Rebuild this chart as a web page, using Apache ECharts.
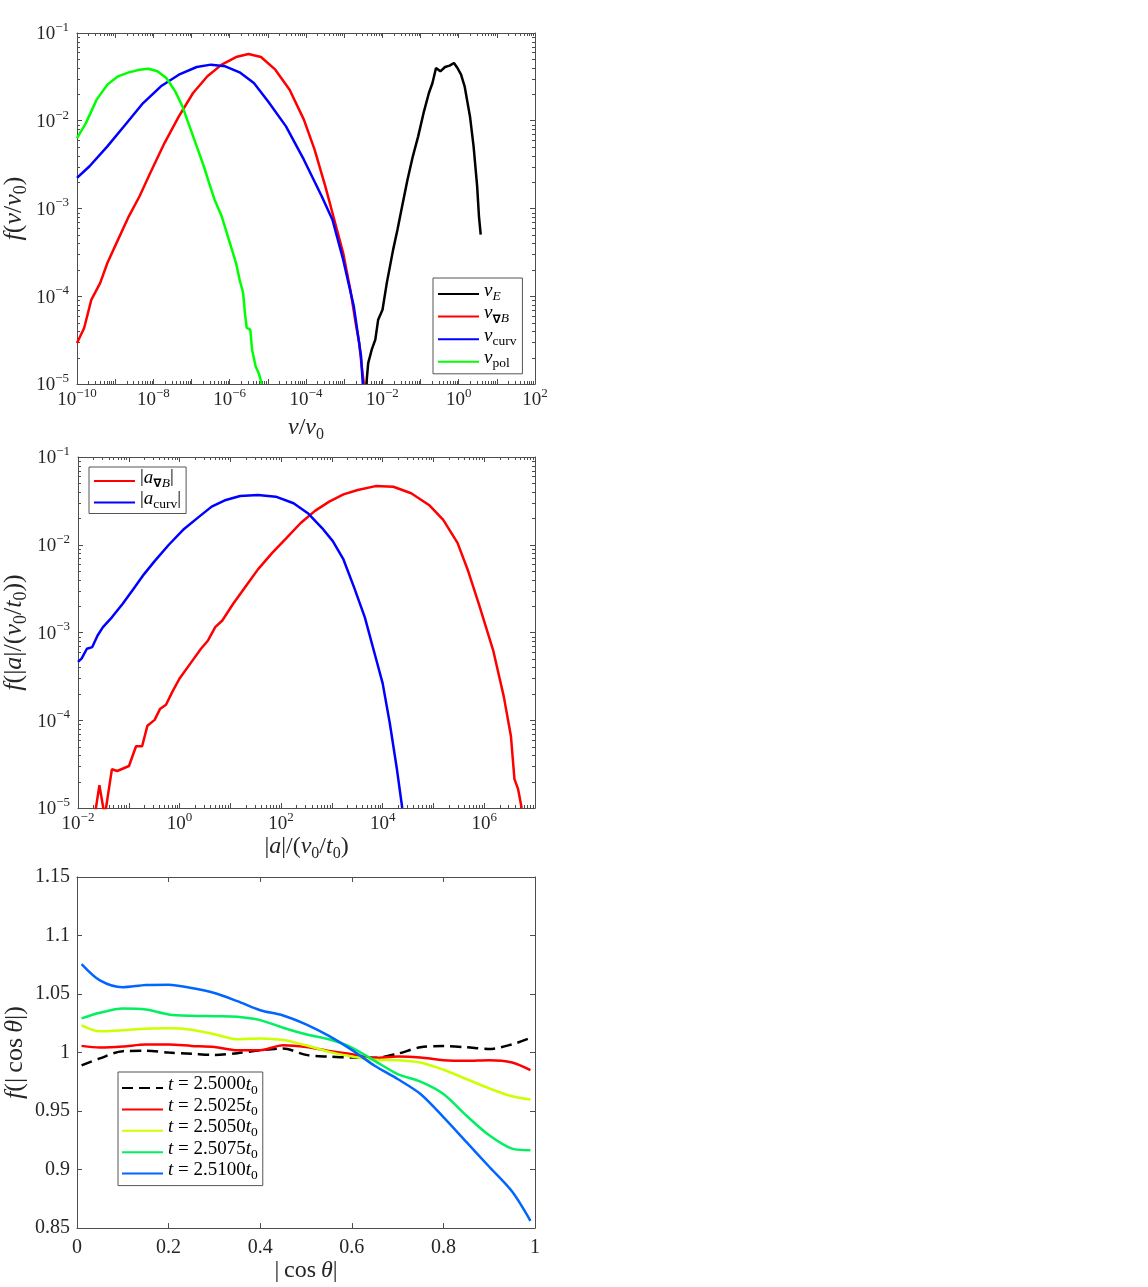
<!DOCTYPE html>
<html><head><meta charset="utf-8">
<script src="https://cdn.jsdelivr.net/npm/echarts@6/dist/echarts.min.js"></script>
<style>html,body{margin:0;padding:0;background:#fff}#c{width:1148px;height:1287px}</style>
</head><body><div id="c"></div>
<script>
// ---------- Panel 1: drift speed distributions f(v/v0) ----------
const vE = [[3.82e-3,1e-5],[4.26e-3,1.73e-5],[5.27e-3,2.46e-5],[6.55e-3,3.2e-5],[7.78e-3,5.41e-5],[1.01e-2,7.03e-5],[1.31e-2,1.42e-4],[1.92e-2,3.4e-4],[2.49e-2,5.74e-4],[3.3e-2,1.06e-3],[4.56e-2,2.13e-3],[6.3e-2,3.93e-3],[8.69e-2,6.64e-3],[0.12,1.22e-2],[0.166,2.07e-2],[0.206,2.69e-2],[0.255,3.99e-2],[0.331,3.66e-2],[0.439,4.1e-2],[0.579,4.25e-2],[0.752,4.55e-2],[0.931,3.99e-2],[1.156,3.35e-2],[1.432,2.47e-2],[1.98,1.12e-2],[2.46,5.1e-3],[3.05,1.79e-3],[3.4,8.15e-4],[3.78,5.03e-4]];
const vGradB = [[1e-10,2.93e-5],[1.54e-10,4.35e-5],[2.37e-10,9.1e-5],[4.06e-10,1.42e-4],[6.25e-10,2.39e-4],[1.19e-9,4.42e-4],[2.28e-9,8.15e-4],[4.35e-9,1.38e-3],[8.3e-9,2.54e-3],[1.96e-8,5.57e-3],[4.66e-8,1.12e-2],[1.1e-7,2.07e-2],[2.61e-7,3.21e-2],[6.18e-7,4.36e-2],[1.47e-6,5.32e-2],[3.11e-6,5.76e-2],[6.62e-6,5.32e-2],[1.57e-5,3.82e-2],[3.72e-5,2.26e-2],[8.79e-5,1.03e-2],[1.68e-4,4.68e-3],[3.21e-4,1.79e-3],[6.12e-4,6.27e-4],[9.42e-4,3.11e-4],[1.45e-3,1.19e-4],[2.0e-3,4.96e-5],[2.48e-3,2.93e-5],[2.88e-3,1.59e-5],[3.29e-3,1e-5]];
const vCurv = [[1e-10,2.23e-3],[2.13e-10,3.03e-3],[6.25e-10,5.1e-3],[1.84e-9,9.0e-3],[5.4e-9,1.59e-2],[1.58e-8,2.47e-2],[4.66e-8,3.35e-2],[1.37e-7,4.1e-2],[3.24e-7,4.36e-2],[7.67e-7,4.17e-2],[1.82e-6,3.56e-2],[4.31e-6,2.69e-2],[1.02e-5,1.66e-2],[2.99e-5,8.63e-3],[8.79e-5,3.6e-3],[2.58e-4,1.38e-3],[4.93e-4,7.46e-4],[9.42e-4,2.61e-4],[1.79e-3,7.67e-5],[2.77e-3,2.07e-5],[3.08e-3,1e-5]];
const vPol = [[1e-10,6.35e-3],[1.71e-10,9.4e-3],[3.27e-10,1.74e-2],[6.25e-10,2.58e-2],[1.19e-9,3.21e-2],[2.28e-9,3.56e-2],[4.35e-9,3.82e-2],[7.45e-9,3.92e-2],[1.28e-8,3.66e-2],[2.19e-8,3.07e-2],[3.75e-8,2.16e-2],[5.77e-8,1.46e-2],[8.89e-8,8.63e-3],[1.37e-7,5.1e-3],[2.1e-7,3.03e-3],[2.9e-7,1.95e-3],[4.02e-7,1.26e-3],[6.18e-7,8.15e-4],[9.51e-7,4.42e-4],[1.47e-6,2.39e-4],[1.82e-6,1.55e-4],[2.25e-6,1.09e-4],[2.51e-6,6.44e-5],[2.79e-6,4.35e-5],[3.47e-6,4.16e-5],[3.86e-6,2.46e-5],[4.79e-6,1.59e-5],[5.94e-6,1.28e-5],[6.9e-6,1e-5]];

// ---------- Panel 2: acceleration distributions ----------
const aGradB = [[0.0205,7e-6],[0.0264,1.82e-5],[0.0336,8e-6],[0.0465,2.76e-5],[0.0592,2.64e-5],[0.101,3.01e-5],[0.139,5.06e-5],[0.183,5.06e-5],[0.233,8.67e-5],[0.323,1.01e-4],[0.411,1.34e-4],[0.541,1.5e-4],[0.724,2.12e-4],[1.0,2.99e-4],[1.626,4.42e-4],[2.64,6.53e-4],[3.64,8.12e-4],[5.04,1.15e-3],[6.95,1.37e-3],[11.3,2.11e-3],[21.5,3.55e-3],[35.0,5.24e-3],[66.8,8.09e-3],[127,1.19e-2],[243,1.77e-2],[465,2.43e-2],[885,3.1e-2],[1690,3.75e-2],[3228,4.2e-2],[7244,4.66e-2],[16250,4.58e-2],[36400,3.86e-2],[81700,2.84e-2],[156000,1.92e-2],[298000,1.05e-2],[483000,5.02e-3],[785000,2.11e-3],[1.5e6,6.27e-4],[2.43e6,1.86e-4],[3.36e6,6.56e-5],[3.94e6,2.13e-5],[4.65e6,1.64e-5],[5.46e6,1e-5]];
const aCurv = [[0.01,4.62e-4],[0.01175,5.04e-4],[0.01496,6.53e-4],[0.0191,6.82e-4],[0.0243,9.24e-4],[0.031,1.15e-3],[0.0465,1.49e-3],[0.0753,2.11e-3],[0.1225,3.11e-3],[0.1986,4.6e-3],[0.323,6.51e-3],[0.615,1.0e-2],[1.175,1.48e-2],[2.24,2.01e-2],[4.29,2.72e-2],[8.17,3.24e-2],[15.6,3.6e-2],[35.0,3.69e-2],[78.5,3.53e-2],[176,2.97e-2],[336,2.29e-2],[641,1.55e-2],[1042,1.1e-2],[1690,6.8e-3],[2748,3.25e-3],[4457,1.49e-3],[7244,5.26e-4],[10000,2.63e-4],[13800,9.29e-5],[19100,2.76e-5],[24300,1e-5]];

// ---------- Panel 3: f(|cos theta|) ----------
const cosX = [0.01,0.05,0.1,0.15,0.2,0.25,0.3,0.35,0.4,0.45,0.5,0.55,0.6,0.65,0.7,0.75,0.8,0.85,0.9,0.95,0.99];
const t25000 = [0.989,0.995,1.0012,1.0015,1.0,0.999,0.998,0.9994,1.002,1.0035,0.998,0.9965,0.9958,0.9955,0.999,1.0045,1.0055,1.0045,1.003,1.007,1.0125];
const t25025 = [1.0057,1.0043,1.0051,1.0068,1.0068,1.0057,1.0048,1.002,1.002,1.0062,1.0048,1.0014,0.9986,0.9955,0.9966,0.9958,0.9935,0.9929,0.9935,0.9915,0.985];
const t25050 = [1.0232,1.0181,1.019,1.0204,1.0207,1.0195,1.0156,1.0113,1.0121,1.0108,1.0062,1.0006,0.9966,0.9938,0.9935,0.9915,0.9853,0.9774,0.9694,0.9626,0.9598];
const t25075 = [1.0292,1.034,1.0376,1.0368,1.0326,1.0314,1.0311,1.0306,1.0277,1.0212,1.0156,1.0113,1.0043,0.9929,0.9816,0.9751,0.9646,0.9462,0.9293,0.9179,0.9165];
const t25100 = [1.0756,1.0617,1.0558,1.0577,1.058,1.0552,1.0509,1.0439,1.0362,1.0317,1.0241,1.0142,1.0023,0.9887,0.9774,0.9646,0.9448,0.9236,0.9024,0.8812,0.8562];

// axis decorations (minor tick multipliers per decade)
const minorMultipliers = [2,3,4,5,6,7,8,9];
const p1xDecades = [-10,-9,-8,-7,-6,-5,-4,-3,-2,-1,0,1];
const p1yDecades = [-5,-4,-3,-2];
const p2xDecades = [-2,-1,0,1,2,3,4,5,6];
const p2yDecades = [-5,-4,-3,-2];

const FONT = '"Liberation Serif", "DejaVu Serif", serif';
const AX = '#4d4d4d';
const TXT = '#262626';

const tickRich = {
  b:{fontFamily:FONT,fontSize:19,lineHeight:22,verticalAlign:'bottom',color:TXT},
  s:{fontFamily:FONT,fontSize:13,lineHeight:15,verticalAlign:'bottom',padding:[0,0,10,0],color:TXT}
};
function powLabel(v, evenOnly){
  const e = Math.round(Math.log10(v));
  if (evenOnly && e % 2 !== 0) return '';
  return '{b|10}{s|' + (e < 0 ? '\u2212' + (-e) : e) + '}';
}
function mkNameRich(size){
  return {
    i:{fontFamily:FONT,fontStyle:'italic',fontSize:size,lineHeight:size+2,verticalAlign:'bottom',padding:[0,0,3,0],color:TXT},
    n:{fontFamily:FONT,fontSize:size,lineHeight:size+2,verticalAlign:'bottom',padding:[0,0,3,0],color:TXT},
    sub:{fontFamily:FONT,fontSize:Math.round(size*0.68),lineHeight:Math.round(size*0.68)+2,verticalAlign:'bottom',color:TXT}
  };
}
const xNameRich = mkNameRich(24);
const yNameRich = mkNameRich(26);
const legRich = {
  i:{fontFamily:FONT,fontStyle:'italic',fontSize:19,lineHeight:18,verticalAlign:'bottom',padding:[0,0,3,0],color:'#000'},
  n:{fontFamily:FONT,fontSize:19,lineHeight:18,verticalAlign:'bottom',padding:[0,0,3,0],color:'#000'},
  sub:{fontFamily:FONT,fontSize:13.5,lineHeight:15,verticalAlign:'bottom',color:'#000'},
  si:{fontFamily:FONT,fontStyle:'italic',fontSize:13.5,lineHeight:15,verticalAlign:'bottom',color:'#000'},
  sb:{fontFamily:'"DejaVu Sans", sans-serif',fontWeight:'bold',fontSize:12,lineHeight:15,verticalAlign:'bottom',color:'#000'}
};
const legendText = {
  'vE':'{i|v}{si|E}',
  'vGradB':'{i|v}{sb|\u2207}{si|B}',
  'vCurv':'{i|v}{sub|curv}',
  'vPol':'{i|v}{sub|pol}',
  'aGradB':'{n||}{i|a}{sb|\u2207}{si|B}{n||}',
  'aCurv':'{n||}{i|a}{sub|curv}{n||}',
  't25000':'{i|t}{n| = 2.5000}{i|t}{sub|0}',
  't25025':'{i|t}{n| = 2.5025}{i|t}{sub|0}',
  't25050':'{i|t}{n| = 2.5050}{i|t}{sub|0}',
  't25075':'{i|t}{n| = 2.5075}{i|t}{sub|0}',
  't25100':'{i|t}{n| = 2.5100}{i|t}{sub|0}'
};

const grids = [
  {left:76, top:33, width:459, height:351},
  {left:77, top:457, width:458, height:351},
  {left:77, top:877, width:458, height:353}
];

function baseAxis(extra){
  return Object.assign({
    axisLine:{show:true,onZero:false,lineStyle:{color:AX,width:1}},
    axisTick:{show:true,inside:true,length:5,interval:0,lineStyle:{color:AX,width:1}},
    splitLine:{show:false},
    minorTick:{show:false}
  }, extra);
}
function logLabels(evenOnly, margin){
  return {margin, interval:0, hideOverlap:false, showMinLabel:true, showMaxLabel:true,
    formatter:v=>powLabel(v,evenOnly), rich:tickRich};
}

const xAxes = [], yAxes = [];
// panel 1 (log axis: interval is one decade, min exponent -10 is a multiple of it)
xAxes.push(baseAxis({gridIndex:0,type:'log',logBase:10,min:1e-10,max:1e2,interval:1,splitNumber:12,position:'bottom',
  axisLabel:logLabels(true,4),
  name:'{i|v}{n|/}{i|v}{sub|0}',nameLocation:'middle',nameGap:33,nameTextStyle:{rich:xNameRich}}));
xAxes.push(baseAxis({gridIndex:0,type:'log',logBase:10,min:1e-10,max:1e2,interval:1,splitNumber:12,position:'top',axisLabel:{show:false}}));
yAxes.push(baseAxis({gridIndex:0,type:'log',logBase:10,min:1e-5,max:1e-1,interval:1,splitNumber:4,position:'left',
  axisLabel:logLabels(false,8),
  name:'{i|f}{n|(}{i|v}{n|/}{i|v}{sub|0}{n|)}',nameLocation:'middle',nameGap:47,nameTextStyle:{rich:yNameRich}}));
yAxes.push(baseAxis({gridIndex:0,type:'log',logBase:10,min:1e-5,max:1e-1,interval:1,splitNumber:4,position:'right',axisLabel:{show:false}}));
// panel 2
xAxes.push(baseAxis({gridIndex:1,type:'log',logBase:10,min:1e-2,max:1e7,interval:1,splitNumber:9,position:'bottom',
  axisLabel:logLabels(true,4),
  name:'{n||}{i|a}{n||/(}{i|v}{sub|0}{n|/}{i|t}{sub|0}{n|)}',nameLocation:'middle',nameGap:28,nameTextStyle:{rich:xNameRich}}));
xAxes.push(baseAxis({gridIndex:1,type:'log',logBase:10,min:1e-2,max:1e7,interval:1,splitNumber:9,position:'top',axisLabel:{show:false}}));
yAxes.push(baseAxis({gridIndex:1,type:'log',logBase:10,min:1e-5,max:1e-1,interval:1,splitNumber:4,position:'left',
  axisLabel:logLabels(false,8),
  name:'{i|f}{n|(|}{i|a}{n||/(}{i|v}{sub|0}{n|/}{i|t}{sub|0}{n|))}',nameLocation:'middle',nameGap:48,nameTextStyle:{rich:yNameRich}}));
yAxes.push(baseAxis({gridIndex:1,type:'log',logBase:10,min:1e-5,max:1e-1,interval:1,splitNumber:4,position:'right',axisLabel:{show:false}}));
// panel 3
xAxes.push(baseAxis({gridIndex:2,type:'value',min:0,max:1,interval:0.2,position:'bottom',
  axisLabel:{margin:10,fontFamily:FONT,fontSize:20,color:TXT,formatter:v=>String(parseFloat(v.toFixed(2)))},
  name:'{n||\u2009cos\u2009}{i|\u03b8}{n||}',nameLocation:'middle',nameGap:28,nameTextStyle:{rich:xNameRich}}));
xAxes.push(baseAxis({gridIndex:2,type:'value',min:0,max:1,interval:0.2,position:'top',axisLabel:{show:false}}));
yAxes.push(baseAxis({gridIndex:2,type:'value',min:0.85,max:1.15,interval:0.05,position:'left',
  axisLabel:{margin:7,fontFamily:FONT,fontSize:20,color:TXT,formatter:v=>String(parseFloat(v.toFixed(2)))},
  name:'{i|f}{n|(|\u2009cos\u2009}{i|\u03b8}{n||)}',nameLocation:'middle',nameGap:44,nameTextStyle:{rich:yNameRich}}));
yAxes.push(baseAxis({gridIndex:2,type:'value',min:0.85,max:1.15,interval:0.05,position:'right',axisLabel:{show:false}}));

function minorVals(decades){
  const out = [];
  decades.forEach(d => minorMultipliers.forEach(m => out.push(m * Math.pow(10, d))));
  return out;
}
function xMinor(ai, vals, ymin, ymax){
  return {type:'custom', xAxisIndex:ai, yAxisIndex:ai, silent:true, clip:false, z:1,
    data: vals.map(v => [v, ymin]),
    renderItem:(p, api) => {
      const v = api.value(0);
      const b = api.coord([v, ymin]), t = api.coord([v, ymax]);
      const x = Math.round(b[0]) + 0.5;
      return {type:'group', children:[
        {type:'line', shape:{x1:x,y1:b[1],x2:x,y2:b[1]-3}, style:{stroke:AX,lineWidth:1}},
        {type:'line', shape:{x1:x,y1:t[1],x2:x,y2:t[1]+3}, style:{stroke:AX,lineWidth:1}}
      ]};
    }};
}
function yMinor(ai, vals, xmin, xmax){
  return {type:'custom', xAxisIndex:ai, yAxisIndex:ai, silent:true, clip:false, z:1,
    data: vals.map(v => [xmin, v]),
    renderItem:(p, api) => {
      const v = api.value(1);
      const l = api.coord([xmin, v]), r = api.coord([xmax, v]);
      const y = Math.round(l[1]) + 0.5;
      return {type:'group', children:[
        {type:'line', shape:{x1:l[0],y1:y,x2:l[0]+3,y2:y}, style:{stroke:AX,lineWidth:1}},
        {type:'line', shape:{x1:r[0],y1:y,x2:r[0]-3,y2:y}, style:{stroke:AX,lineWidth:1}}
      ]};
    }};
}

function line(name, ai, data, color, extra){
  return Object.assign({type:'line', name, xAxisIndex:ai, yAxisIndex:ai, data,
    symbol:'none', showSymbol:false, clip:true, z:5, animation:false,
    lineStyle:{color, width:2.5}, itemStyle:{color}}, extra || {});
}
const zipX = ys => cosX.map((x, i) => [x, ys[i]]);

const series = [
  xMinor(0, minorVals(p1xDecades), 1e-5, 1e-1),
  yMinor(0, minorVals(p1yDecades), 1e-10, 1e2),
  xMinor(2, minorVals(p2xDecades), 1e-5, 1e-1),
  yMinor(2, minorVals(p2yDecades), 1e-2, 1e7),
  line('vE', 0, vE, '#000000'),
  line('vGradB', 0, vGradB, '#ff0000'),
  line('vCurv', 0, vCurv, '#0000ff'),
  line('vPol', 0, vPol, '#00ff00'),
  line('aGradB', 2, aGradB, '#ff0000'),
  line('aCurv', 2, aCurv, '#0000ff'),
  line('t25000', 4, zipX(t25000), '#000000', {smooth:0.3, lineStyle:{color:'#000000',width:2.5,type:[11,6]}}),
  line('t25025', 4, zipX(t25025), '#ff0000', {smooth:0.3}),
  line('t25050', 4, zipX(t25050), '#ccff00', {smooth:0.3}),
  line('t25075', 4, zipX(t25075), '#00f060', {smooth:0.3}),
  line('t25100', 4, zipX(t25100), '#0066ff', {smooth:0.3})
];

function legend(left, top, names, gap, pad){
  return {left, top, orient:'vertical', data:names, itemWidth:41, itemHeight:14, itemGap:gap,
    padding:pad, borderColor:'#555', borderWidth:1, backgroundColor:'#fff', borderRadius:0,
    itemStyle:{color:'rgba(0,0,0,0)', borderColor:'rgba(0,0,0,0)', borderWidth:0, opacity:0},
    formatter:n => legendText[n], textStyle:{rich:legRich}, selectedMode:false, z:20};
}

const option = {
  animation:false,
  backgroundColor:'#fff',
  grid: grids,
  xAxis: xAxes,
  yAxis: yAxes,
  legend: [
    legend(433, 278, ['vE','vGradB','vCurv','vPol'], 0.6, [3,6,3,4]),
    legend(89, 467, ['aGradB','aCurv'], -0.5, [1,5,2,4]),
    legend(118, 1072, ['t25000','t25025','t25050','t25075','t25100'], -0.6, [3,5,3,3])
  ],
  series
};
const chart = echarts.init(document.getElementById('c'), null, {renderer:'canvas'});
chart.setOption(option);
</script></body></html>
